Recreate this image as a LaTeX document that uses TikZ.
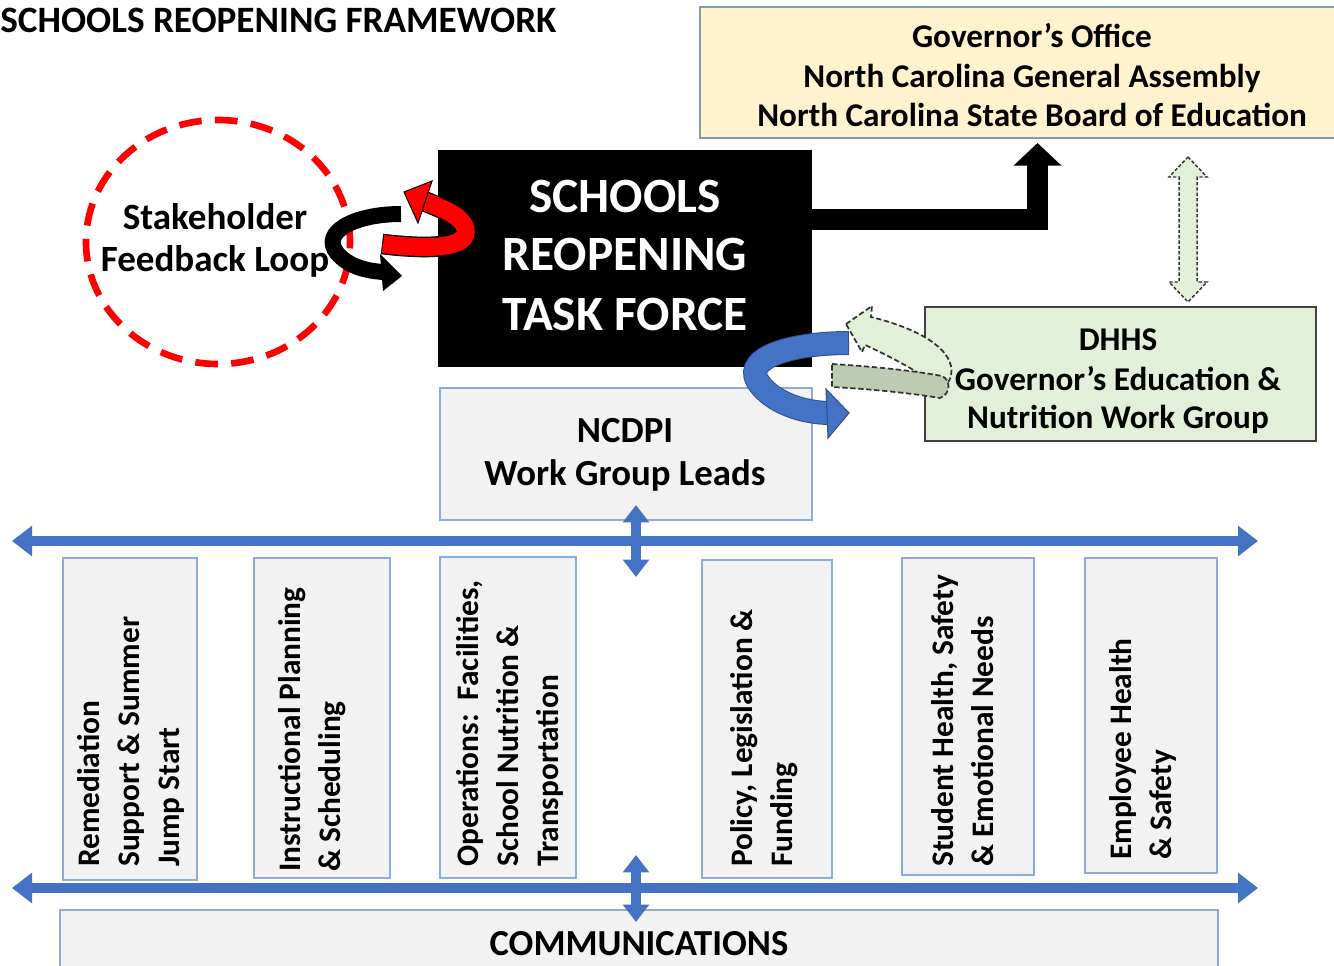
\documentclass[tikz,border=0pt]{standalone}
\usepackage{fontspec}
\setmainfont{Carlito}
\usetikzlibrary{fit,arrows.meta}
\definecolor{myblue}{HTML}{4472C4}
\definecolor{bluedark}{HTML}{2F528F}
\definecolor{boxborder}{HTML}{8FAADC}
\definecolor{boxfill}{HTML}{F2F2F2}
\definecolor{govfill}{HTML}{FFF2CC}
\definecolor{govborder}{HTML}{8497B0}
\definecolor{dhhsfill}{HTML}{E2F0D9}
\definecolor{greendark}{HTML}{BDCBB2}
\definecolor{loopred}{HTML}{FF0000}
\newcommand{\fz}[1]{\fontsize{#1}{#1}\selectfont\bfseries}
\tikzset{
  greybox/.style={draw=boxborder, fill=boxfill, line width=1pt, inner sep=0pt},
  txt/.style={anchor=base, inner sep=0pt},
  vtxt/.style={anchor=base west, inner sep=0pt, rotate=90, font=\fz{23.5pt}},
  bluearrow/.style={myblue, line width=7pt, {Triangle[length=15pt,width=22pt]}-{Triangle[length=15pt,width=22pt]}},
  smallblue/.style={myblue, line width=8pt, {Triangle[length=13pt,width=19pt]}-{Triangle[length=13pt,width=19pt]}},
  dashedgreen/.style={draw=black!80, fill=dhhsfill, line width=1.3pt, dash pattern=on 4pt off 2pt},
  dashedthin/.style={draw=black!80, fill=dhhsfill, line width=1.1pt, dash pattern=on 2.5pt off 1.5pt},
}
\begin{document}
\begin{tikzpicture}[x=0.75pt,y=-0.75pt]
\useasboundingbox (0,0) rectangle (1334,966);
\fill[white] (0,0) rectangle (1334,966);

% title
\node[anchor=base west, inner sep=0pt, font=\fz{27.9pt}] (title) at (0,33) {SCHOOLS REOPENING FRAMEWORK};

% governor box
\node[fit={(700,7) (1345,138)}, draw=govborder, fill=govfill, line width=1.2pt, inner sep=0pt] (gov) {};
\node[txt, font=\fz{24.9pt}] (gov1) at (1032,48) {Governor’s Office};
\node[txt, font=\fz{24.9pt}] (gov2) at (1032,88) {North Carolina General Assembly};
\node[txt, font=\fz{24.9pt}] (gov3) at (1032,127) {North Carolina State Board of Education};

% task force
\node[fit={(438,150) (812,367)}, fill=black, inner sep=0pt] (tf) {};
\node[txt, white, font=\fz{37pt}] (tf1) at (625,213) {SCHOOLS};
\node[txt, white, font=\fz{37pt}] (tf2) at (625,271) {REOPENING};
\node[txt, white, font=\fz{37pt}] (tf3) at (625,330) {TASK FORCE};

% stakeholder loop
\node[fit={(86,120) (350,364)}, inner sep=0pt] (loop) {};
\draw[loopred, line width=5pt, dash pattern=on 17pt off 10pt] (loop.center) ellipse [x radius=99pt, y radius=91.5pt];
\node[txt, font=\fz{27.8pt}] (sk1) at (215,229) {Stakeholder};
\node[txt, font=\fz{27.8pt}] (sk2) at (215,272) {Feedback Loop};

% black curved arrow
\draw[black, line width=12pt] (401,214) .. controls (355,214) and (320,232) .. (337,253) .. controls (348,266) and (365,271) .. (384,272);
\fill[black] (402,276) -- (380,254) -- (383,291) -- cycle;
% red curved arrow
\draw[black, line width=15.5pt] (382,244) .. controls (440,251) and (474,246) .. (464,225) .. controls (458,214) and (443,209) .. (424,201);
\draw[loopred, line width=13.5pt] (383,244) .. controls (440,251) and (474,246) .. (464,225) .. controls (458,214) and (443,209) .. (424,201);
\filldraw[fill=loopred, draw=black, line width=0.8pt] (404,192) -- (432,181) -- (418,223) -- cycle;

% DHHS box
\node[fit={(925,307) (1316,441)}, draw=black!75, fill=dhhsfill, line width=1pt, inner sep=0pt] (dhhs) {};
\node[txt, font=\fz{24.9pt}] (dh1) at (1118,350) {DHHS};
\node[txt, font=\fz{24.9pt}] (dh2) at (1118,390) {Governor’s Education \&};
\node[txt, font=\fz{24.9pt}] (dh3) at (1118,428) {Nutrition Work Group};

% NCDPI box
\node[fit={(440,388) (812,520)}, greybox] (ncdpi) {};
\node[txt, font=\fz{27.6pt}] (nc1) at (625,442) {NCDPI};
\node[txt, font=\fz{27.6pt}] (nc2) at (625,485) {Work Group Leads};

% task force to governor arrow
\coordinate (tfout) at (812,220);
\coordinate (govin) at (1037.5,143);
\draw[black, line width=15.75pt, line join=miter, -{Triangle[length=17pt,width=35pt]}] (tfout) -| (govin);

% governor <-> DHHS dashed double arrow
\draw[dashedthin] (1188,157) -- (1207,177) -- (1197,177) -- (1197,282) -- (1207,282) -- (1188,302) -- (1169,282) -- (1179,282) -- (1179,177) -- (1169,177) -- cycle;

% blue curved arrow
\draw[bluedark, line width=18pt] (849,343) .. controls (790,343) and (745,358) .. (757,380) .. controls (767,398) and (795,412) .. (828,413);
\draw[myblue, line width=16.5pt] (848,343) .. controls (790,343) and (745,358) .. (757,380) .. controls (767,398) and (795,412) .. (828,413);
\filldraw[fill=myblue, draw=bluedark, line width=0.8pt] (849,413) -- (826,389) -- (828,438) -- cycle;

% green dashed curved arrow
\draw[dashedgreen] (846,324) -- (872,306) -- (871,317) .. controls (912,327) and (946,344) .. (951,366) .. controls (953,378) and (948,385) .. (940,388) -- (928,379) .. controls (908,366) and (885,354) .. (865,345) -- (862,352) -- cycle;
\draw[dashedgreen, fill=greendark] (832,364) .. controls (880,367) and (915,371) .. (942,376) .. controls (951,380) and (951,394) .. (940,398) .. controls (910,393) and (870,389) .. (832,387) -- cycle;

% work group boxes
\node[fit={(63,558) (197,880)}, greybox] (wg1) {};
\node[fit={(254,558) (390,878)}, greybox] (wg2) {};
\node[fit={(440,557) (576,878)}, greybox] (wg3) {};
\node[fit={(702,560) (832,878)}, greybox] (wg4) {};
\node[fit={(902,558) (1034,875)}, greybox] (wg5) {};
\node[fit={(1085,558) (1217,873)}, greybox] (wg6) {};

\node[vtxt] (t1a) at (99,867) {Remediation};
\node[vtxt] (t1b) at (139,867) {Support \& Summer};
\node[vtxt] (t1c) at (179,867) {Jump Start};
\node[vtxt] (t2a) at (300,872) {Instructional Planning};
\node[vtxt] (t2b) at (340,872) {\& Scheduling};
\node[vtxt] (t3a) at (478,867) {Operations:\ \ Facilities,};
\node[vtxt] (t3b) at (518,867) {School Nutrition \&};
\node[vtxt] (t3c) at (558,867) {Transportation};
\node[vtxt] (t4a) at (752,867) {Policy, Legislation \&};
\node[vtxt] (t4b) at (792,867) {Funding};
\node[vtxt] (t5a) at (953,867) {Student Health, Safety};
\node[vtxt] (t5b) at (993,867) {\& Emotional Needs};
\node[vtxt] (t6a) at (1131,860) {Employee Health};
\node[vtxt] (t6b) at (1171,860) {\& Safety};

% communications
\node[fit={(60,910) (1218,980)}, greybox] (comm) {};
\node[txt, font=\fz{27.5pt}] (commt) at (639,955) {COMMUNICATIONS};

% blue connectors
\coordinate (hA1) at (12,541);
\coordinate (hA2) at (1258,541);
\coordinate (hB1) at (12,888);
\coordinate (hB2) at (1258,888);
\coordinate (vA1) at (636,505);
\coordinate (vA2) at (636,577);
\coordinate (vB1) at (636,855);
\coordinate (vB2) at (636,922);
\draw[bluearrow] (hA1) -- (hA2);
\draw[bluearrow] (hB1) -- (hB2);
\draw[smallblue] (vA1) -- (vA2);
\draw[smallblue] (vB1) -- (vB2);
\end{tikzpicture}
\end{document}
